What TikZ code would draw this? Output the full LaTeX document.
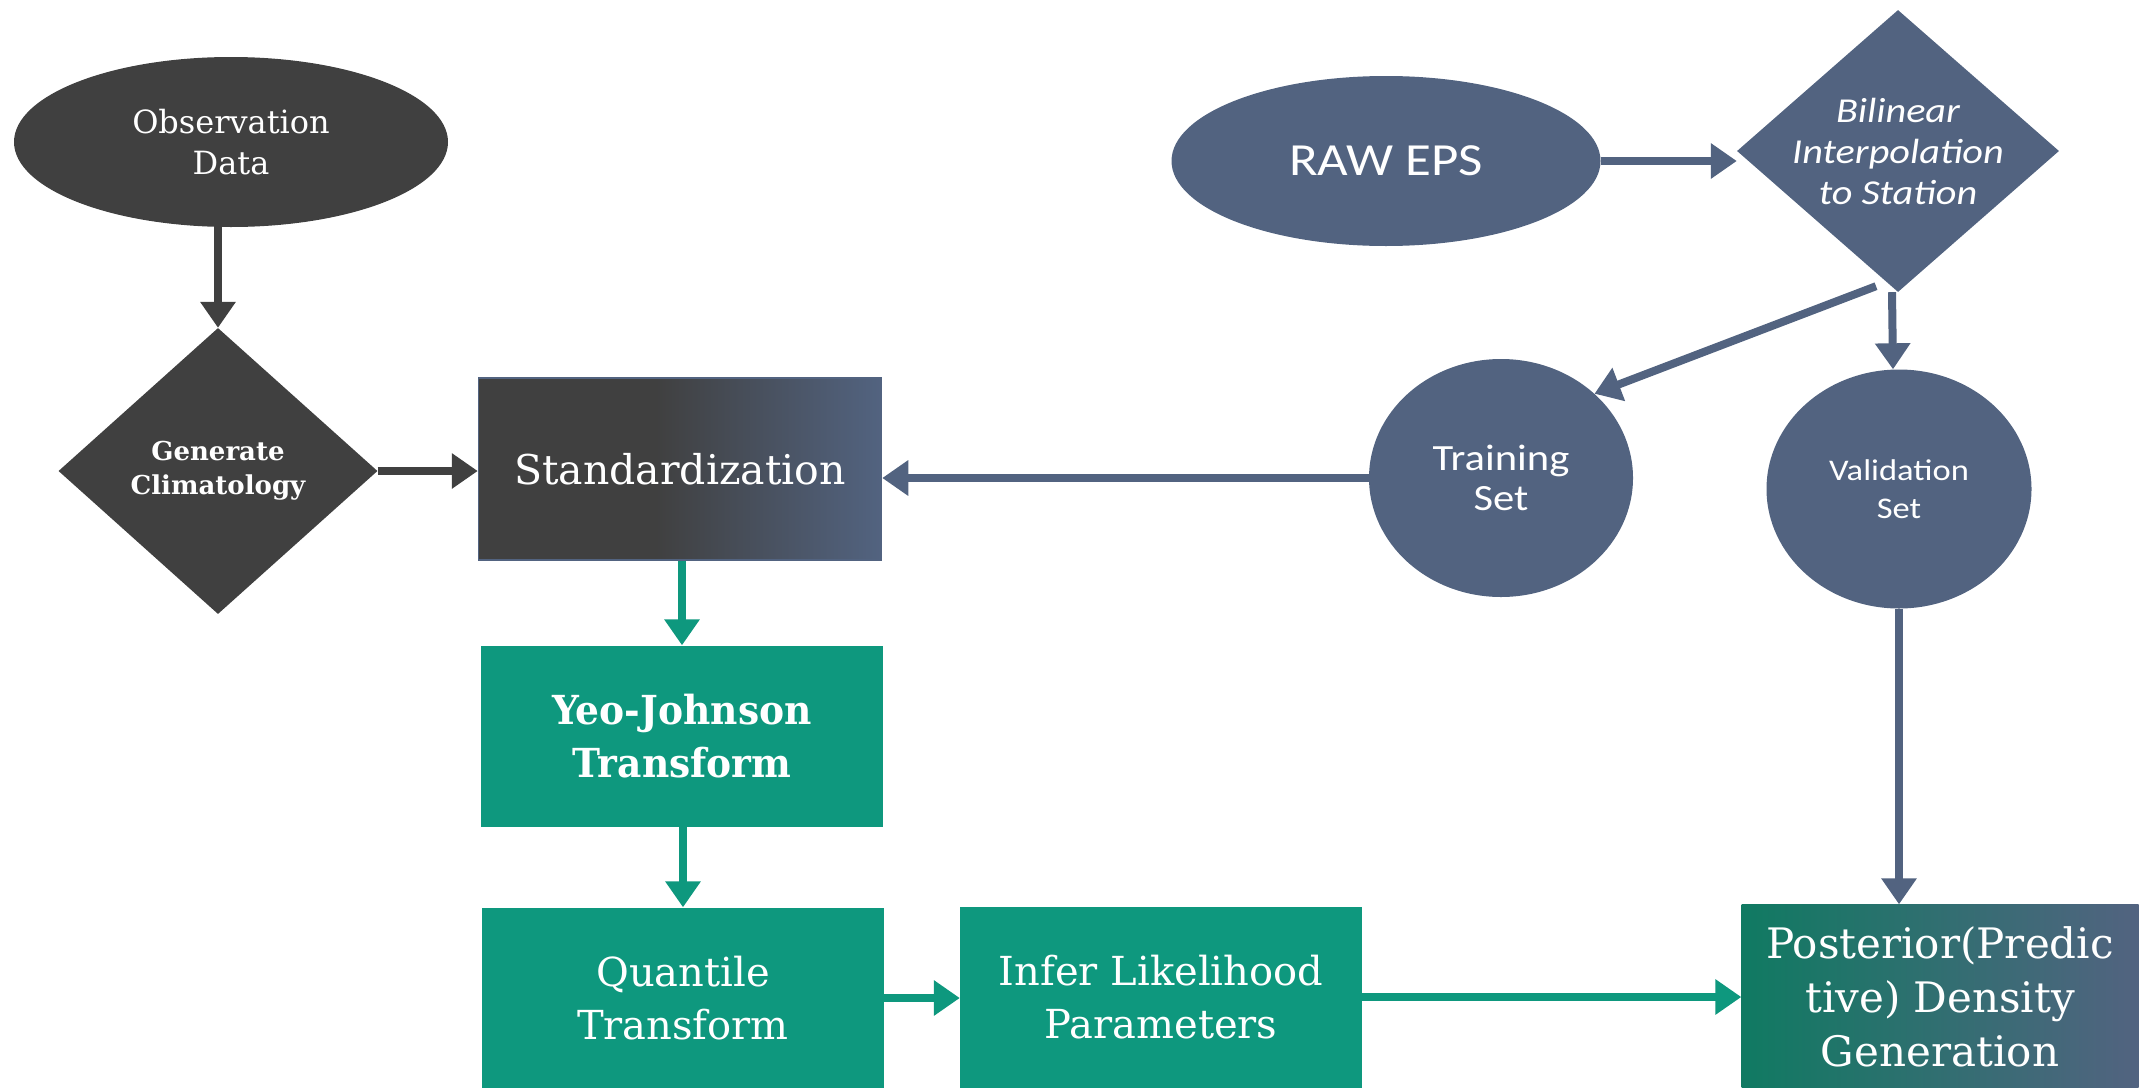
\documentclass[tikz,border=0pt]{standalone}
\usepackage{fontspec}
\setmainfont{DejaVu Serif}
\newfontfamily\calib[FakeStretch=1.15]{Carlito}
\newfontfamily\condfont[FakeStretch=0.94]{DejaVu Serif}
\usetikzlibrary{shapes.geometric,arrows.meta,positioning}

\definecolor{obsgray}{RGB}{64,64,64}
\definecolor{epsblue}{RGB}{82,99,128}
\definecolor{yjteal}{RGB}{14,152,126}
\definecolor{postteal}{RGB}{16,122,98}

\pgfdeclarehorizontalshading{stdshade}{100bp}{color(0bp)=(obsgray); color(47bp)=(obsgray); color(75bp)=(epsblue); color(100bp)=(epsblue)}

\tikzset{
  every node/.style={text=white, align=center, inner sep=0pt},
  darkarrow/.style={-{Triangle[width=34pt,length=26pt]}, line width=8pt, draw=obsgray},
  bluearrow/.style={-{Triangle[width=34pt,length=26pt]}, line width=8pt, draw=epsblue},
  tealarrow/.style={-{Triangle[width=34pt,length=26pt]}, line width=8pt, draw=yjteal},
  tealbox/.style={rectangle, fill=yjteal, minimum width=402pt, minimum height=181pt},
}

\begin{document}
\begin{tikzpicture}[x=1pt, y=-1pt]
  \useasboundingbox (0,0) rectangle (2141,1087);
  % observation branch
  \node[ellipse, fill=obsgray, minimum width=434pt, minimum height=170pt,
    font=\fontsize{32}{41}\selectfont] (obs) at (231,142) {Observation\\Data};
  \node[diamond, fill=obsgray, aspect=1.1, minimum width=319pt, minimum height=286pt,
    font=\fontsize{26}{34}\selectfont\bfseries] (clim) at (218,471) {Generate\\Climatology};
  \node[rectangle, shading=stdshade, draw=epsblue, line width=1.5pt,
    minimum width=403pt, minimum height=182pt,
    font=\fontsize{41}{48}\selectfont] (std) at (680,469) {Standardization};

  % ensemble branch
  \node[ellipse, fill=epsblue, minimum width=429pt, minimum height=170pt,
    font=\calib\fontsize{46}{56}\selectfont] (eps) at (1386,161) {RAW EPS};
  \node[diamond, fill=epsblue, aspect=1.14, inner sep=-9pt,
    minimum width=322pt, minimum height=282pt,
    font=\calib\itshape\fontsize{35}{41}\selectfont] (bil) at (1898,151)
    {Bilinear\\Interpolation\\to Station};
  \node[ellipse, fill=epsblue, minimum width=264pt, minimum height=238pt,
    font=\calib\fontsize{37}{40}\selectfont] (train) at (1501,478) {Training\\Set};
  \node[ellipse, fill=epsblue, minimum width=265pt, minimum height=239pt,
    font=\calib\fontsize{30}{38}\selectfont] (val) at (1899,489) {Validation\\Set};

  % processing chain
  \node[tealbox, font=\condfont\bfseries\fontsize{40}{53}\selectfont] (yj) at (682,736)
    {Yeo-Johnson\\Transform};
  \node[tealbox, font=\fontsize{40}{53}\selectfont] (quant) at (683,998)
    {Quantile\\Transform};
  \node[tealbox, font=\fontsize{40}{53}\selectfont] (infer) at (1161,997)
    {Infer Likelihood\\Parameters};
  \node[rectangle, left color=postteal, right color=epsblue,
    minimum width=397pt, minimum height=185pt,
    font=\fontsize{42}{54}\selectfont] (post) at (1940,997)
    {Posterior(Predic\\tive) Density\\Generation};

  % connectors
  \draw[darkarrow] (obs.south -| clim.north) -- (clim.north);
  \draw[darkarrow] (clim.east) -- (clim.east -| std.west);
  \draw[bluearrow] (eps.east) -- (eps.east -| bil.west);
  \draw[bluearrow] ([xshift=-22pt,yshift=6pt]bil.south) -- (train.north east);
  \draw[bluearrow] ([xshift=-6pt]bil.south) -- ([xshift=-6pt]val.north);
  \draw[bluearrow] (train.west) -- (train.west -| std.east);
  \draw[bluearrow] (val.south) -- (val.south |- post.north);
  \draw[tealarrow] (std.south -| yj.north) -- (yj.north);
  \draw[tealarrow] (yj.south) -- (yj.south -| quant.north) -- (quant.north);
  \draw[tealarrow] (quant.east) -- (quant.east -| infer.west);
  \draw[tealarrow] (infer.east) -- (post.west);
\end{tikzpicture}
\end{document}
